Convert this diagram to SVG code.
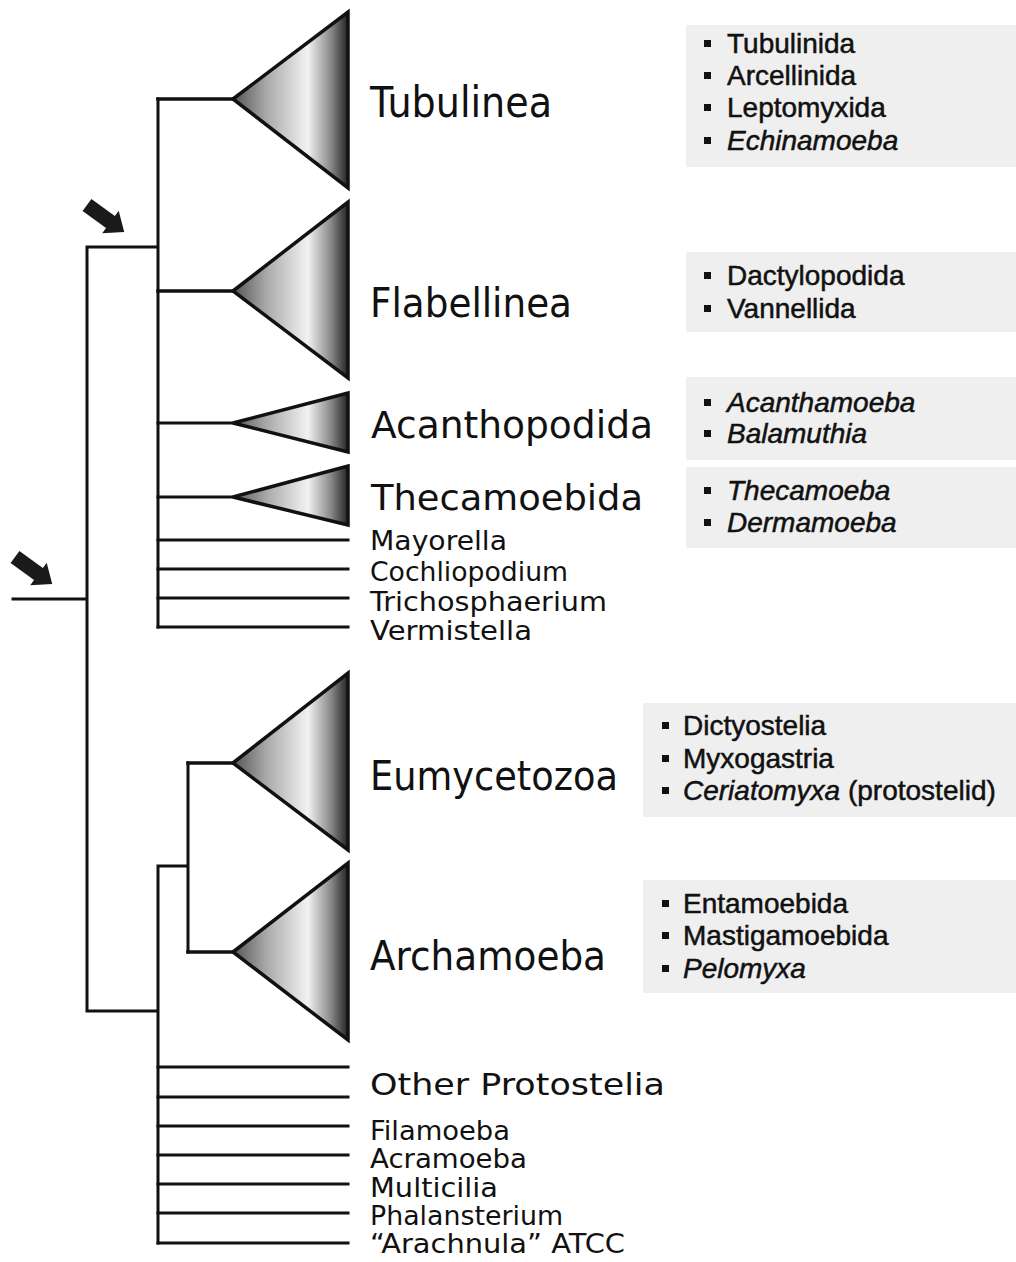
<svg xmlns="http://www.w3.org/2000/svg" width="1016" height="1262" viewBox="0 0 1016 1262">
<defs>
<linearGradient id="tri" x1="0" y1="0" x2="1" y2="0">
<stop offset="0" stop-color="#555"/>
<stop offset="0.3" stop-color="#ababab"/>
<stop offset="0.65" stop-color="#f2f2f2"/>
<stop offset="0.85" stop-color="#8a8a8a"/>
<stop offset="1" stop-color="#222"/>
</linearGradient>
<polygon id="arrow" points="0,-7.5 29,-7.5 29,-14 46,0 29,14 29,7.5 0,7.5"/>
</defs>
<style>
.ln{fill:none;stroke:#111;stroke-width:3;stroke-linecap:square;stroke-linejoin:miter}
.stem{stroke-width:3.6}
.tri{fill:url(#tri);stroke:#111;stroke-width:3.5;stroke-linejoin:miter}
.big{font-family:"DejaVu Sans","Noto Sans",sans-serif;fill:#111}
.box{fill:#efefef}
.it{font-family:"Liberation Sans",Arial,sans-serif;font-size:28px;fill:#111;stroke:#111;stroke-width:0.5}
.i{font-style:italic}
.bul{fill:#111}
</style>
<rect width="1016" height="1262" fill="#fff"/>

<g id="connectors">
<path class="ln" d="M13,599 H87 M87,247 V1011 M87,247 H158 M158,99 V627 M87,1011 H158 M158,866 V1243 M158,866 H188 M188,763 V952"/>
<path class="ln stem" d="M158,99 H233 M158,291 H233 M188,763 H233 M188,952 H233"/>
<path class="ln" d="M158,423 H233 M158,497 H233"/>
<path class="ln" d="M158,540 H348 M158,569 H348 M158,598 H348 M158,627 H348"/>
<path class="ln" d="M158,1067 H348 M158,1097 H348 M158,1126 H348 M158,1155 H348 M158,1184 H348 M158,1213 H348 M158,1243 H348"/>
</g>

<g id="arrows">
<use href="#arrow" transform="translate(87,205) rotate(36)" fill="#1a1a1a"/>
<use href="#arrow" transform="translate(15,557) rotate(36)" fill="#1a1a1a"/>
</g>

<g id="tubulinea">
<polygon class="tri" points="233,99 348,12 348,188"/>
<text class="big" x="370" y="117" font-size="42" textLength="182" lengthAdjust="spacingAndGlyphs">Tubulinea</text>
<rect class="box" x="686" y="25" width="330" height="142"/>
<rect class="bul" x="704" y="40" width="7" height="7"/>
<rect class="bul" x="704" y="72" width="7" height="7"/>
<rect class="bul" x="704" y="104" width="7" height="7"/>
<rect class="bul" x="704" y="137" width="7" height="7"/>
<text class="it" x="727" y="53">Tubulinida</text>
<text class="it" x="727" y="85">Arcellinida</text>
<text class="it" x="727" y="117">Leptomyxida</text>
<text class="it i" x="727" y="150">Echinamoeba</text>
</g>

<g id="flabellinea">
<polygon class="tri" points="233,291 348,202 348,378"/>
<text class="big" x="370" y="317" font-size="40" textLength="202" lengthAdjust="spacingAndGlyphs">Flabellinea</text>
<rect class="box" x="686" y="252" width="330" height="80"/>
<rect class="bul" x="704" y="272" width="7" height="7"/>
<rect class="bul" x="704" y="305" width="7" height="7"/>
<text class="it" x="727" y="285">Dactylopodida</text>
<text class="it" x="727" y="318">Vannellida</text>
</g>

<g id="acanthopodida">
<polygon class="tri" points="233,423 348,393 348,452"/>
<text class="big" x="371" y="438" font-size="37" textLength="282" lengthAdjust="spacingAndGlyphs">Acanthopodida</text>
<rect class="box" x="686" y="377" width="330" height="83"/>
<rect class="bul" x="704" y="399" width="7" height="7"/>
<rect class="bul" x="704" y="430" width="7" height="7"/>
<text class="it i" x="727" y="412">Acanthamoeba</text>
<text class="it i" x="727" y="443">Balamuthia</text>
</g>

<g id="thecamoebida">
<polygon class="tri" points="233,497 348,466 348,525"/>
<text class="big" x="371" y="510" font-size="36" textLength="272" lengthAdjust="spacingAndGlyphs">Thecamoebida</text>
<rect class="box" x="686" y="467" width="330" height="81"/>
<rect class="bul" x="704" y="487" width="7" height="7"/>
<rect class="bul" x="704" y="519" width="7" height="7"/>
<text class="it i" x="727" y="500">Thecamoeba</text>
<text class="it i" x="727" y="532">Dermamoeba</text>
</g>

<g id="mayorella"><text class="big" x="370" y="550" font-size="26" textLength="137" lengthAdjust="spacingAndGlyphs">Mayorella</text></g>
<g id="cochliopodium"><text class="big" x="370" y="581" font-size="26" textLength="198" lengthAdjust="spacingAndGlyphs">Cochliopodium</text></g>
<g id="trichosphaerium"><text class="big" x="370" y="611" font-size="26" textLength="237" lengthAdjust="spacingAndGlyphs">Trichosphaerium</text></g>
<g id="vermistella"><text class="big" x="370" y="640" font-size="26" textLength="162" lengthAdjust="spacingAndGlyphs">Vermistella</text></g>

<g id="eumycetozoa">
<polygon class="tri" points="233,763 348,673 348,850"/>
<text class="big" x="370" y="790" font-size="40" textLength="248" lengthAdjust="spacingAndGlyphs">Eumycetozoa</text>
<rect class="box" x="643" y="703" width="373" height="114"/>
<rect class="bul" x="662" y="722" width="7" height="7"/>
<rect class="bul" x="662" y="755" width="7" height="7"/>
<rect class="bul" x="662" y="787" width="7" height="7"/>
<text class="it" x="683" y="735">Dictyostelia</text>
<text class="it" x="683" y="768">Myxogastria</text>
<text class="it" x="683" y="800"><tspan class="i">Ceriatomyxa</tspan> (protostelid)</text>
</g>

<g id="archamoeba">
<polygon class="tri" points="233,952 348,863 348,1040"/>
<text class="big" x="370" y="970" font-size="40" textLength="236" lengthAdjust="spacingAndGlyphs">Archamoeba</text>
<rect class="box" x="643" y="880" width="373" height="113"/>
<rect class="bul" x="662" y="900" width="7" height="7"/>
<rect class="bul" x="662" y="932" width="7" height="7"/>
<rect class="bul" x="662" y="965" width="7" height="7"/>
<text class="it" x="683" y="913">Entamoebida</text>
<text class="it" x="683" y="945">Mastigamoebida</text>
<text class="it i" x="683" y="978">Pelomyxa</text>
</g>

<g id="other-protostelia"><text class="big" x="370" y="1095" font-size="30" textLength="295" lengthAdjust="spacingAndGlyphs">Other Protostelia</text></g>
<g id="filamoeba"><text class="big" x="370" y="1140" font-size="26" textLength="140" lengthAdjust="spacingAndGlyphs">Filamoeba</text></g>
<g id="acramoeba"><text class="big" x="370" y="1168" font-size="26" textLength="157" lengthAdjust="spacingAndGlyphs">Acramoeba</text></g>
<g id="multicilia"><text class="big" x="370" y="1197" font-size="26" textLength="128" lengthAdjust="spacingAndGlyphs">Multicilia</text></g>
<g id="phalansterium"><text class="big" x="370" y="1225" font-size="26" textLength="193" lengthAdjust="spacingAndGlyphs">Phalansterium</text></g>
<g id="arachnula"><text class="big" x="370" y="1253" font-size="26" textLength="255" lengthAdjust="spacingAndGlyphs">“Arachnula” ATCC</text></g>
</svg>
